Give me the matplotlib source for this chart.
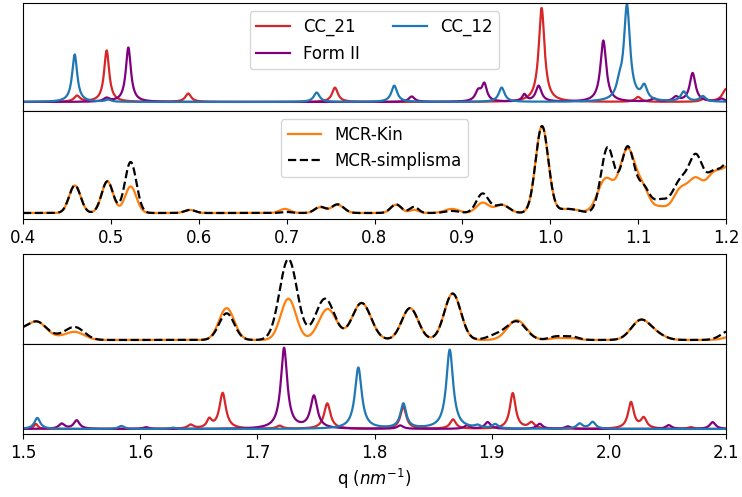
import numpy as np
import matplotlib.pyplot as plt

# Peak tables: (centre q, height, width).
# Reference spectra: Lorentzian peaks, width = HWHM.
# MCR profiles: Gaussian peaks, width = sigma.
# Heights are in "fraction of the panel above the baseline".

# ---- q = 0.4 .. 1.2 ----
cc21_low = [(0.4615, 0.06, 0.004), (0.4952, 0.52, 0.0035), (0.588, 0.085, 0.004),
            (0.755, 0.145, 0.004), (0.9902, 0.95, 0.004), (1.100, 0.05, 0.004),
            (1.175, 0.03, 0.004), (1.200, 0.13, 0.005)]
form2_low = [(0.495, 0.035, 0.004), (0.5199, 0.55, 0.0035), (0.8423, 0.055, 0.004),
             (0.918, 0.10, 0.004), (0.925, 0.17, 0.0035), (0.9705, 0.07, 0.003),
             (0.9868, 0.16, 0.004), (1.0604, 0.62, 0.004), (1.118, 0.03, 0.004),
             (1.143, 0.045, 0.004), (1.162, 0.29, 0.004), (1.195, 0.03, 0.004)]
cc12_low = [(0.4588, 0.48, 0.0035), (0.497, 0.02, 0.004), (0.7342, 0.095, 0.004),
            (0.8225, 0.165, 0.004), (0.9447, 0.145, 0.004), (1.0786, 0.12, 0.004),
            (1.0873, 0.96, 0.0042), (1.107, 0.14, 0.004), (1.1519, 0.10, 0.004),
            (1.1735, 0.055, 0.004)]

kin_low = [(0.459, 0.27, 0.0065), (0.496, 0.31, 0.0065), (0.5225, 0.26, 0.0065),
           (0.590, 0.03, 0.006), (0.698, 0.04, 0.006), (0.738, 0.055, 0.006),
           (0.758, 0.08, 0.007), (0.8245, 0.08, 0.006), (0.845, 0.03, 0.005),
           (0.888, 0.04, 0.008), (0.923, 0.10, 0.007), (0.945, 0.08, 0.008),
           (0.9906, 0.85, 0.0072), (1.020, 0.04, 0.012), (1.063, 0.33, 0.009),
           (1.0881, 0.62, 0.009), (1.106, 0.20, 0.007), (1.125, 0.06, 0.008),
           (1.148, 0.22, 0.008), (1.165, 0.30, 0.008), (1.185, 0.33, 0.009),
           (1.205, 0.42, 0.010)]
simp_low = [(0.459, 0.27, 0.0065), (0.496, 0.31, 0.0065), (0.5225, 0.50, 0.0065),
            (0.590, 0.03, 0.006), (0.700, 0.01, 0.006), (0.738, 0.06, 0.006),
            (0.758, 0.085, 0.007), (0.8245, 0.085, 0.006), (0.845, 0.06, 0.005),
            (0.888, 0.02, 0.008), (0.923, 0.19, 0.007), (0.945, 0.08, 0.008),
            (0.9906, 0.85, 0.0072), (1.020, 0.04, 0.012), (1.0653, 0.64, 0.0075),
            (1.0881, 0.64, 0.0075), (1.106, 0.24, 0.007), (1.125, 0.12, 0.008),
            (1.148, 0.30, 0.009), (1.166, 0.52, 0.008), (1.185, 0.32, 0.008),
            (1.205, 0.50, 0.010)]

# ---- q = 1.5 .. 2.1 ----
kin_high = [(1.496, 0.10, 0.008), (1.5122, 0.20, 0.008), (1.530, 0.02, 0.008),
            (1.5444, 0.09, 0.008), (1.6738, 0.37, 0.0065), (1.7265, 0.48, 0.0065),
            (1.760, 0.36, 0.0075), (1.789, 0.43, 0.008), (1.8303, 0.37, 0.007),
            (1.8667, 0.54, 0.007), (1.9214, 0.23, 0.008), (1.955, 0.02, 0.006),
            (1.968, 0.02, 0.006), (2.0269, 0.22, 0.008), (2.040, 0.06, 0.008),
            (2.108, 0.05, 0.008)]
simp_high = [(1.496, 0.10, 0.008), (1.5122, 0.20, 0.008), (1.530, 0.03, 0.008),
             (1.5444, 0.145, 0.008), (1.6738, 0.31, 0.0065), (1.7265, 0.94, 0.0075),
             (1.7578, 0.48, 0.008), (1.789, 0.43, 0.008), (1.8303, 0.37, 0.007),
             (1.8667, 0.54, 0.007), (1.905, 0.06, 0.008), (1.9214, 0.21, 0.008),
             (1.955, 0.04, 0.006), (1.968, 0.04, 0.006), (2.0269, 0.22, 0.008),
             (2.040, 0.06, 0.008), (2.105, 0.12, 0.008)]

cc21_high = [(1.511, 0.06, 0.002), (1.643, 0.045, 0.003), (1.659, 0.10, 0.0025),
             (1.6704, 0.42, 0.0033), (1.719, 0.035, 0.003), (1.7597, 0.30, 0.0033),
             (1.8246, 0.26, 0.003), (1.867, 0.11, 0.003), (1.918, 0.42, 0.003),
             (1.934, 0.07, 0.003), (2.0189, 0.31, 0.003), (2.0298, 0.12, 0.003),
             (2.070, 0.02, 0.003)]
form2_high = [(1.533, 0.06, 0.003), (1.5458, 0.10, 0.003), (1.605, 0.02, 0.003),
              (1.7228, 0.95, 0.0033), (1.7483, 0.38, 0.0035), (1.822, 0.04, 0.003),
              (1.879, 0.04, 0.003), (1.8966, 0.08, 0.003), (1.941, 0.06, 0.003),
              (1.965, 0.03, 0.003), (2.0511, 0.045, 0.003), (2.0886, 0.08, 0.003)]
cc12_high = [(1.5122, 0.13, 0.003), (1.584, 0.035, 0.003), (1.628, 0.015, 0.003),
             (1.7862, 0.72, 0.0035), (1.8246, 0.29, 0.003), (1.8642, 0.93, 0.0035),
             (1.888, 0.03, 0.003), (1.903, 0.05, 0.003), (1.975, 0.06, 0.003),
             (1.9862, 0.08, 0.003)]

low_ticks = [0.4, 0.5, 0.6, 0.7, 0.8, 0.9, 1.0, 1.1, 1.2]
high_ticks = [1.5, 1.6, 1.7, 1.8, 1.9, 2.0, 2.1]


def lorentz(q, peaks):
    y = np.zeros_like(q)
    for c, h, w in peaks:
        y += h / (1 + ((q - c) / w) ** 2)
    return y


def gauss(q, peaks):
    y = np.zeros_like(q)
    for c, h, s in peaks:
        y += h * np.exp(-0.5 * ((q - c) / s) ** 2)
    return y


def px_axes(fig, top, bottom, left=23, right=726):
    W, H = 742, 497
    return fig.add_axes([left / W, 1 - bottom / H, (right - left) / W, (bottom - top) / H])


def main():
    plt.rcParams['font.size'] = 12
    fig = plt.figure(figsize=(7.42, 4.97), dpi=100)

    ax1 = px_axes(fig, 3, 111)
    ax2 = px_axes(fig, 111, 219)
    ax3 = px_axes(fig, 254, 344)
    ax4 = px_axes(fig, 344, 434)

    q_low = np.linspace(0.4, 1.2, 3000)
    q_high = np.linspace(1.5, 2.1, 3000)

    ax1.plot(q_low, lorentz(q_low, cc21_low), color='tab:red', lw=1.6, label='CC_21')
    ax1.plot(q_low, lorentz(q_low, form2_low), color='purple', lw=1.6, label='Form II')
    ax1.plot(q_low, lorentz(q_low, cc12_low), color='tab:blue', lw=1.6, label='CC_12')
    ax1.legend(loc='upper center', ncol=2)
    ax1.set_ylim(-0.091, 1.0)

    ax2.plot(q_low, gauss(q_low, kin_low), color='tab:orange', lw=1.6, label='MCR-Kin')
    ax2.plot(q_low, gauss(q_low, simp_low), color='black', ls='--', lw=1.6, label='MCR-simplisma')
    ax2.legend(loc='upper center')
    ax2.set_ylim(-0.059, 1.0)

    ax3.plot(q_high, gauss(q_high, kin_high), color='tab:orange', lw=1.6)
    ax3.plot(q_high, gauss(q_high, simp_high), color='black', ls='--', lw=1.6)
    ax3.set_ylim(-0.047, 1.0)

    ax4.plot(q_high, lorentz(q_high, cc21_high), color='tab:red', lw=1.6)
    ax4.plot(q_high, lorentz(q_high, form2_high), color='purple', lw=1.6)
    ax4.plot(q_high, lorentz(q_high, cc12_high), color='tab:blue', lw=1.6)
    ax4.set_ylim(-0.059, 1.0)

    for ax in (ax1, ax2):
        ax.set_xlim(0.4, 1.2)
        ax.set_xticks(low_ticks)
    for ax in (ax3, ax4):
        ax.set_xlim(1.5, 2.1)
        ax.set_xticks(high_ticks)
    for ax in (ax1, ax2, ax3, ax4):
        ax.set_yticks([])
    for ax in (ax1, ax3):
        ax.tick_params(axis='x', bottom=False, labelbottom=False)

    ax4.set_xlabel('q ($nm^{-1}$)')

    fig.savefig('out.png', dpi=100)


if __name__ == "__main__":
    main()
